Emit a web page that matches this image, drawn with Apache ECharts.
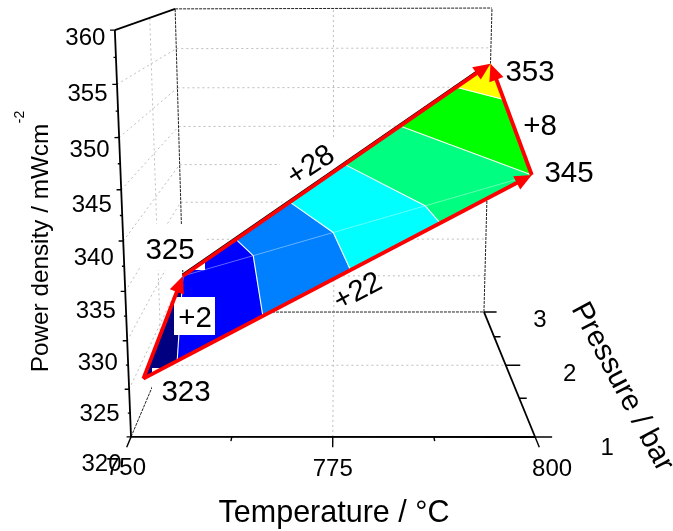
<!DOCTYPE html>
<html><head><meta charset="utf-8">
<style>html,body{margin:0;padding:0;background:#fff}#c{width:673px;height:531px}</style>
<script src="https://cdn.jsdelivr.net/npm/echarts@6/dist/echarts.min.js"></script>
</head><body><div id="c"></div>
<script>
// ---- data ----
const temperatures = [750, 800, 800, 750];
const pressures = [1.4, 1.35, 3, 3];
const powers = [323, 345, 353, 325];
const triangles = [[0, 1, 3], [1, 2, 3]];
const bandLevels = [320, 325, 330, 335, 340, 345, 350, 355];
const bandColors = ['#000080', '#0000ff', '#0080ff', '#00ffff', '#00ff80', '#00ff00', '#ffff00'];
const powerTicks = [320, 325, 330, 335, 340, 345, 350, 355, 360];
const powerMinorTicks = [322.5, 327.5, 332.5, 337.5, 342.5, 347.5, 352.5, 357.5];
const tempTicks = [750, 775, 800];
const tempMinorTicks = [762.5, 787.5];
const pressureTicks = [1, 2, 3];
const pressureMinorTicks = [1.5, 2.5];
const arrows = [[0, 3], [0, 1], [3, 2], [1, 2]];

// ---- 3D -> screen projection fitted to the box corners ----
const T0 = 750, T1 = 800, P0 = 1, P1 = 3, Z0 = 320, Z1 = 360;
const fit = [[0,0,0,131,437],[1,0,0,535,437],[1,1,0,484,312],[0,1,0,184,312],[0,0,1,115,30],[0,1,1,175,9],[1,1,1,492,8]];
function solveProjection() {
  const A = [], b = [];
  fit.forEach(([u,v,w,x,y]) => {
    A.push([u,v,w,1,0,0,0,0,-x*u,-x*v,-x*w]); b.push(x);
    A.push([0,0,0,0,u,v,w,1,-y*u,-y*v,-y*w]); b.push(y);
  });
  const n = 11, M = [];
  for (let i = 0; i < n; i++) {
    M[i] = [];
    for (let j = 0; j < n; j++) { let s = 0; A.forEach(r => s += r[i]*r[j]); M[i][j] = s; }
    let s = 0; A.forEach((r,k) => s += r[i]*b[k]); M[i][n] = s;
  }
  for (let i = 0; i < n; i++) {
    let p = i; for (let k = i+1; k < n; k++) if (Math.abs(M[k][i]) > Math.abs(M[p][i])) p = k;
    [M[i], M[p]] = [M[p], M[i]];
    for (let k = 0; k < n; k++) if (k !== i) {
      const f = M[k][i]/M[i][i];
      for (let j = i; j <= n; j++) M[k][j] -= f*M[i][j];
    }
  }
  return M.map((r,i) => r[n]/r[i]);
}
const H = solveProjection();
function project(T, P, Z) {
  const u=(T-T0)/(T1-T0), v=(P-P0)/(P1-P0), w=(Z-Z0)/(Z1-Z0);
  const d = H[8]*u+H[9]*v+H[10]*w+1;
  return [(H[0]*u+H[1]*v+H[2]*w+H[3])/d, (H[4]*u+H[5]*v+H[6]*w+H[7])/d];
}

// ---- surface: bands and contours of the two triangles ----
const vertex = i => [temperatures[i], pressures[i], powers[i]];
const mix = (a,b,t) => a.map((c,i) => c+(b[i]-c)*t);
function clip(poly, level, keepAbove) {
  const out = [];
  poly.forEach((a,i) => {
    const b = poly[(i+1)%poly.length];
    const ina = keepAbove ? a[2]>=level : a[2]<=level, inb = keepAbove ? b[2]>=level : b[2]<=level;
    if (ina) out.push(a);
    if (ina !== inb) out.push(mix(a,b,(level-a[2])/(b[2]-a[2])));
  });
  return out;
}
const bandPolys = [], contourSegs = [];
triangles.forEach(tri => {
  const pts = tri.map(vertex);
  bandColors.forEach((color,i) => {
    const p = clip(clip(pts, bandLevels[i], true), bandLevels[i+1], false);
    if (p.length > 2) bandPolys.push({p, color});
  });
  bandLevels.slice(1,-1).forEach(l => {
    const hit = [];
    pts.forEach((a,i) => {
      const b = pts[(i+1)%3];
      if (a[2] === l) hit.push(a);
      else if ((a[2]-l)*(b[2]-l) < 0) hit.push(mix(a,b,(l-a[2])/(b[2]-a[2])));
    });
    if (hit.length > 1) contourSegs.push([hit[0], hit[1]]);
  });
});

// ---- box grid, frame, axes ----
const gridSegs = [];
powerTicks.slice(1,-1).forEach(z => {
  gridSegs.push([[T0,P0,z],[T0,P1,z]]);
  gridSegs.push([[T0,P1,z],[T1,P1,z]]);
});
gridSegs.push([[T0,2,Z0],[T0,2,Z1]], [[775,P1,Z0],[775,P1,Z1]], [[775,P0,Z0],[775,P1,Z0]], [[T0,2,Z0],[T1,2,Z0]]);
const frameSegs = [
  [[T0,P0,Z0],[T0,P1,Z0]], [[T0,P1,Z0],[T1,P1,Z0]], [[T0,P1,Z0],[T0,P1,Z1]],
  [[T0,P1,Z1],[T1,P1,Z1]], [[T1,P1,Z0],[T1,P1,Z1]]
];
const axisSegs = [
  [[T0,P0,Z0],[T0,P0,Z1]], [[T0,P0,Z1],[T0,P1,Z1]], [[T0,P0,Z0],[T1,P0,Z0]], [[T1,P0,Z0],[T1,P1,Z0]]
];
const tickSegs = [];
powerTicks.forEach(z => tickSegs.push([[T0,P0,z],[T0-0.55,P0,z]]));
powerMinorTicks.forEach(z => tickSegs.push([[T0,P0,z],[T0-0.28,P0,z]]));
tempTicks.forEach(t => tickSegs.push([[t,P0,Z0],[t,P0-0.12,Z0]]));
tempMinorTicks.forEach(t => tickSegs.push([[t,P0,Z0],[t,P0-0.05,Z0]]));
pressureTicks.forEach(p => tickSegs.push([[T1,p,Z0],[T1+2.1,p,Z0]]));
pressureMinorTicks.forEach(p => tickSegs.push([[T1,p,Z0],[T1+1,p,Z0]]));

// ---- layers ----
const F = '"Liberation Sans", Arial, sans-serif';
function layer(items, render) {
  return {
    type: 'custom', coordinateSystem: 'cartesian2d', clip: false, silent: true,
    data: items.map((_, i) => [i, 0]), encode: {x: 0, y: 1},
    renderItem: (params, api) => render(items[params.dataIndex], api)
  };
}
const at = (api, q) => api.coord(project(q[0], q[1], q[2]));
const segLayer = (segs, style) => layer(segs, (s, api) => {
  const a = at(api, s[0]), b = at(api, s[1]);
  return {type: 'line', shape: {x1: a[0], y1: a[1], x2: b[0], y2: b[1]}, style: Object.assign({fill: null}, style)};
});
const boxLayer = boxes => layer(boxes, (b, api) => {
  const a = api.coord([b[0], b[1]]), c = api.coord([b[2], b[3]]);
  return {type: 'rect', shape: {x: a[0], y: a[1], width: c[0]-a[0], height: c[1]-a[1]}, style: {fill: '#fff'}};
});
const textEl = (api, text, x, y, size, rot) => {
  const c = api.coord([x, y]);
  return {type: 'text', x: c[0], y: c[1], rotation: (rot || 0) * Math.PI / 180,
    style: {text, fill: '#000', font: size + 'px ' + F, align: 'center', verticalAlign: 'middle'}};
};

const annotations = [
  ['323', 186, 393, 29.5, 0], ['325', 170, 251, 29.5, 0], ['353', 530, 73, 29.5, 0], ['345', 569, 174, 29.5, 0],
  ['+2', 195, 319, 29.5, 0], ['+8', 540, 127, 29.5, 0], ['+28', 311, 166, 29.5, 33], ['+22', 358, 292, 29.5, 28]
];
const titles = [
  ['Temperature / °C', 334, 514, 30.5, 0],
  ['Pressure / bar', 622, 387, 29.7, -62],
  ['Power density / mWcm', 41, 248, 24.3, 90],
  ['-2', 20, 117, 14, 90]
];
const tickLabels = [];
powerTicks.forEach(z => {
  const q = project(T0, P0, z);
  tickLabels.push([String(z), q[0]-29.5, q[1]+8+(q[1]-32)*0.047]);
});
const tempDx = {750: -5, 775: 0, 800: 17};
tempTicks.forEach(t => { const q = project(t, P0, Z0); tickLabels.push([String(t), q[0]+tempDx[t], q[1]+32]); });
pressureTicks.forEach(p => { const q = project(T1, p, Z0); tickLabels.push([String(p), q[0]+56+(3-p)*8, q[1]+8+(3-p)*1.5]); });

const series = [
  segLayer(gridSegs, {stroke: '#bdbdbd', lineWidth: 1, lineDash: [2, 3]}),
  boxLayer([[280, 140, 345, 190]]),
  segLayer(frameSegs, {stroke: '#222', lineWidth: 1, lineDash: [3, 1]}),
  layer(bandPolys, (b, api) => ({
    type: 'polygon', shape: {points: b.p.map(q => at(api, q))},
    style: {fill: b.color, stroke: b.color, lineWidth: 0.6}
  })),
  segLayer([[vertex(1), vertex(3)]], {stroke: 'rgba(255,255,255,0.45)', lineWidth: 0.8}),
  segLayer(contourSegs, {stroke: '#fff', lineWidth: 1.1}),
  boxLayer([[141, 224, 205, 270], [152, 368, 222, 412], [174, 297, 215, 335]]),
  layer(arrows, (ar, api) => {
    const a = at(api, vertex(ar[0])), b = at(api, vertex(ar[1]));
    const L = Math.hypot(b[0]-a[0], b[1]-a[1]), dx = (b[0]-a[0])/L, dy = (b[1]-a[1])/L;
    const len = 17, w = 7.5;
    const m = [b[0]-dx*len, b[1]-dy*len];
    return {type: 'group', children: [
      {type: 'line', shape: {x1: a[0], y1: a[1]-0.8, x2: m[0]+dx*2, y2: m[1]+dy*2-0.8}, style: {stroke: '#000', lineWidth: 3.6, opacity: ar[0] === 3 ? 1 : 0}},
      {type: 'line', shape: {x1: a[0], y1: a[1], x2: m[0]+dx*2, y2: m[1]+dy*2}, style: {stroke: '#ff0000', lineWidth: 3.8}},
      {type: 'polygon', shape: {points: [b, [m[0]-dy*w, m[1]+dx*w], [m[0]+dy*w, m[1]-dx*w]]}, style: {fill: '#ff0000'}}
    ]};
  }),
  segLayer(axisSegs, {stroke: '#000', lineWidth: 1.8}),
  segLayer(tickSegs, {stroke: '#000', lineWidth: 1.4}),
  layer(tickLabels, (t, api) => textEl(api, t[0], t[1], t[2], 24)),
  layer(annotations, (t, api) => textEl(api, t[0], t[1], t[2], t[3], t[4])),
  layer(titles, (t, api) => textEl(api, t[0], t[1], t[2], t[3], t[4]))
];

const chart = echarts.init(document.getElementById('c'), null, {renderer: 'canvas'});
chart.setOption({
  animation: false, backgroundColor: '#fff',
  grid: {left: 0, right: 0, top: 0, bottom: 0},
  xAxis: {type: 'value', min: 0, max: 673, show: false},
  yAxis: {type: 'value', min: 0, max: 531, inverse: true, show: false},
  series
});
</script></body></html>
